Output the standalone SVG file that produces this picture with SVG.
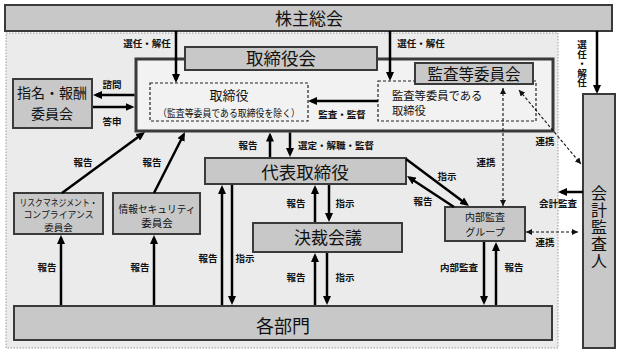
<svg xmlns="http://www.w3.org/2000/svg" width="620" height="355" viewBox="0 0 620 355">
<defs>
<style>
.box{fill:#c8c8c8;stroke:#3a3a3a;stroke-width:2}
.dbox{fill:none;stroke:#222;stroke-width:1.2;stroke-dasharray:3 2}
.t{font-family:"Noto Sans CJK JP","Noto Sans",sans-serif;fill:#111;text-anchor:middle}
.big{font-size:17px}
.sm{font-size:9.5px;font-weight:700}
.v{writing-mode:vertical-rl;text-anchor:start}
.a{stroke:#000;stroke-width:2.5;fill:none;marker-end:url(#ah)}
.d{stroke:#111;stroke-width:1.1;stroke-dasharray:3 2;fill:none;marker-start:url(#dh);marker-end:url(#dh)}
</style>
<marker id="ah" viewBox="0 0 9 8" refX="6" refY="4" markerWidth="9" markerHeight="8" markerUnits="userSpaceOnUse" orient="auto"><path d="M0,0L9,4L0,8z" fill="#000"/></marker>
<marker id="dh" viewBox="0 0 6 6" refX="6" refY="3" markerWidth="6" markerHeight="6" markerUnits="userSpaceOnUse" orient="auto-start-reverse"><path d="M0,0L6,3L0,6z" fill="#111"/></marker>
</defs>
<rect width="620" height="355" fill="#fff"/>
<rect id="company" x="6" y="33" width="552" height="315" fill="#ebebeb" stroke="#999" stroke-width="1" stroke-dasharray="1.5 1.5"/>
<g id="shareholders"><rect class="box" x="5" y="5" width="607" height="26"/><text class="t big" x="309" y="25">株主総会</text></g>
<g id="board"><rect x="136" y="59" width="417" height="72" fill="#f2f2f2" stroke="#3a3a3a" stroke-width="3"/>
<rect class="box" x="185" y="47" width="192" height="23"/><text class="t" font-size="17.5" x="281" y="65">取締役会</text></g>
<g id="directors"><rect class="dbox" x="150" y="83" width="158" height="38"/><text class="t" font-size="13" x="229" y="100">取締役</text><text class="t" font-size="10" x="229" y="117" textLength="142" lengthAdjust="spacingAndGlyphs">（監査等委員である取締役を除く）</text></g>
<g id="audit-directors"><rect class="dbox" x="378" y="81" width="158" height="40"/><text class="t" font-size="11.3" x="392" y="100" style="text-anchor:start">監査等委員である</text><text class="t" font-size="11.3" x="392" y="115" style="text-anchor:start">取締役</text></g>
<g id="audit-committee"><rect class="box" x="415" y="63" width="118" height="21"/><text class="t" font-size="15.5" x="474" y="79.5">監査等委員会</text></g>
<g id="nomination"><rect class="box" x="13" y="79" width="79" height="49"/><text class="t" font-size="14" x="52" y="98">指名・報酬</text><text class="t" font-size="14" x="52" y="119">委員会</text></g>
<g id="risk"><rect class="box" x="14" y="193" width="89" height="41"/><text class="t" font-size="9.5" x="58.5" y="205.5" textLength="78" lengthAdjust="spacingAndGlyphs">リスクマネジメント・</text><text class="t" font-size="9.5" x="58.5" y="218" textLength="70" lengthAdjust="spacingAndGlyphs">コンプライアンス</text><text class="t" font-size="9.5" x="58.5" y="230.5">委員会</text></g>
<g id="infosec"><rect class="box" x="113" y="193" width="87" height="41"/><text class="t" font-size="10.5" x="157" y="213" textLength="77" lengthAdjust="spacingAndGlyphs">情報セキュリティ</text><text class="t" font-size="10.5" x="157" y="226.5">委員会</text></g>
<g id="ceo"><rect class="box" x="205" y="158" width="201" height="26"/><text class="t" font-size="17.5" x="305" y="179">代表取締役</text></g>
<g id="decision"><rect class="box" x="253" y="223" width="149" height="29"/><text class="t big" x="328" y="244">決裁会議</text></g>
<g id="internal-audit"><rect class="box" x="445" y="207" width="80" height="34"/><text class="t" font-size="10" x="485" y="221">内部監査</text><text class="t" font-size="10" x="485" y="235.5">グループ</text></g>
<g id="departments"><rect class="box" x="14" y="306" width="538" height="34"/><text class="t" font-size="18" x="283" y="333">各部門</text></g>
<g id="auditor"><rect class="box" x="583" y="94" width="32" height="254"/>
<text class="t v" font-size="16" letter-spacing="1" x="599" y="185">会計監査人</text></g>
<g id="connectors">
<line class="a" x1="176" y1="31" x2="176" y2="80"/>
<line class="a" x1="390" y1="31" x2="390" y2="78"/>
<line class="a" x1="597" y1="31" x2="597" y2="91"/>
<line class="a" x1="134.5" y1="95" x2="96" y2="95"/>
<line class="a" x1="93" y1="107" x2="131.5" y2="107"/>
<line class="a" x1="378" y1="101" x2="311" y2="101"/>
<line class="a" x1="270" y1="157" x2="270" y2="135.5"/>
<line class="a" x1="290" y1="132.5" x2="290" y2="154"/>
<line class="a" x1="315" y1="222" x2="315" y2="188"/>
<line class="a" x1="329" y1="185" x2="329" y2="219"/>
<line class="a" x1="315" y1="305" x2="315" y2="256"/>
<line class="a" x1="327" y1="253" x2="327" y2="302"/>
<line class="a" x1="222" y1="305" x2="222" y2="188"/>
<line class="a" x1="232" y1="185" x2="232" y2="302"/>
<line class="a" x1="61" y1="305" x2="61" y2="238"/>
<line class="a" x1="154" y1="305" x2="154" y2="238"/>
<line class="a" x1="62" y1="193" x2="142.6" y2="133.8"/>
<line class="a" x1="154" y1="193" x2="183.6" y2="134.7"/>
<line class="a" x1="406" y1="159" x2="466.6" y2="204.2"/>
<line class="a" x1="454" y1="207" x2="409.5" y2="177.7"/>
<line class="a" x1="484" y1="242" x2="484" y2="302"/>
<line class="a" x1="496" y1="305" x2="496" y2="245"/>
<line class="a" x1="583" y1="192" x2="561" y2="192"/>
<line class="d" x1="519" y1="90" x2="581" y2="164"/>
<line class="d" x1="503" y1="88" x2="503" y2="206"/>
<line class="d" x1="526" y1="232" x2="578" y2="232"/>
<g class="t sm">
<text x="147" y="47">選任・解任</text>
<text x="421" y="47">選任・解任</text>
<text class="v" x="582" y="40">選任・解任</text>
<text x="112" y="88">諮問</text>
<text x="112" y="125">答申</text>
<text x="342" y="118">監査・監督</text>
<text x="248" y="149">報告</text>
<text x="336" y="149">選定・解職・監督</text>
<text x="296" y="207">報告</text>
<text x="345" y="207">指示</text>
<text x="296" y="281">報告</text>
<text x="345" y="281">指示</text>
<text x="208" y="262">報告</text>
<text x="245" y="262">指示</text>
<text x="47" y="271">報告</text>
<text x="140" y="271">報告</text>
<text x="83" y="166">報告</text>
<text x="152" y="166">報告</text>
<text x="447" y="180">指示</text>
<text x="423" y="205">報告</text>
<text x="459" y="271">内部監査</text>
<text x="514" y="271">報告</text>
<text x="545" y="145">連携</text>
<text x="486" y="166">連携</text>
<text x="545" y="246">連携</text>
<text x="558" y="207">会計監査</text>
</g>
</g>
</svg>
